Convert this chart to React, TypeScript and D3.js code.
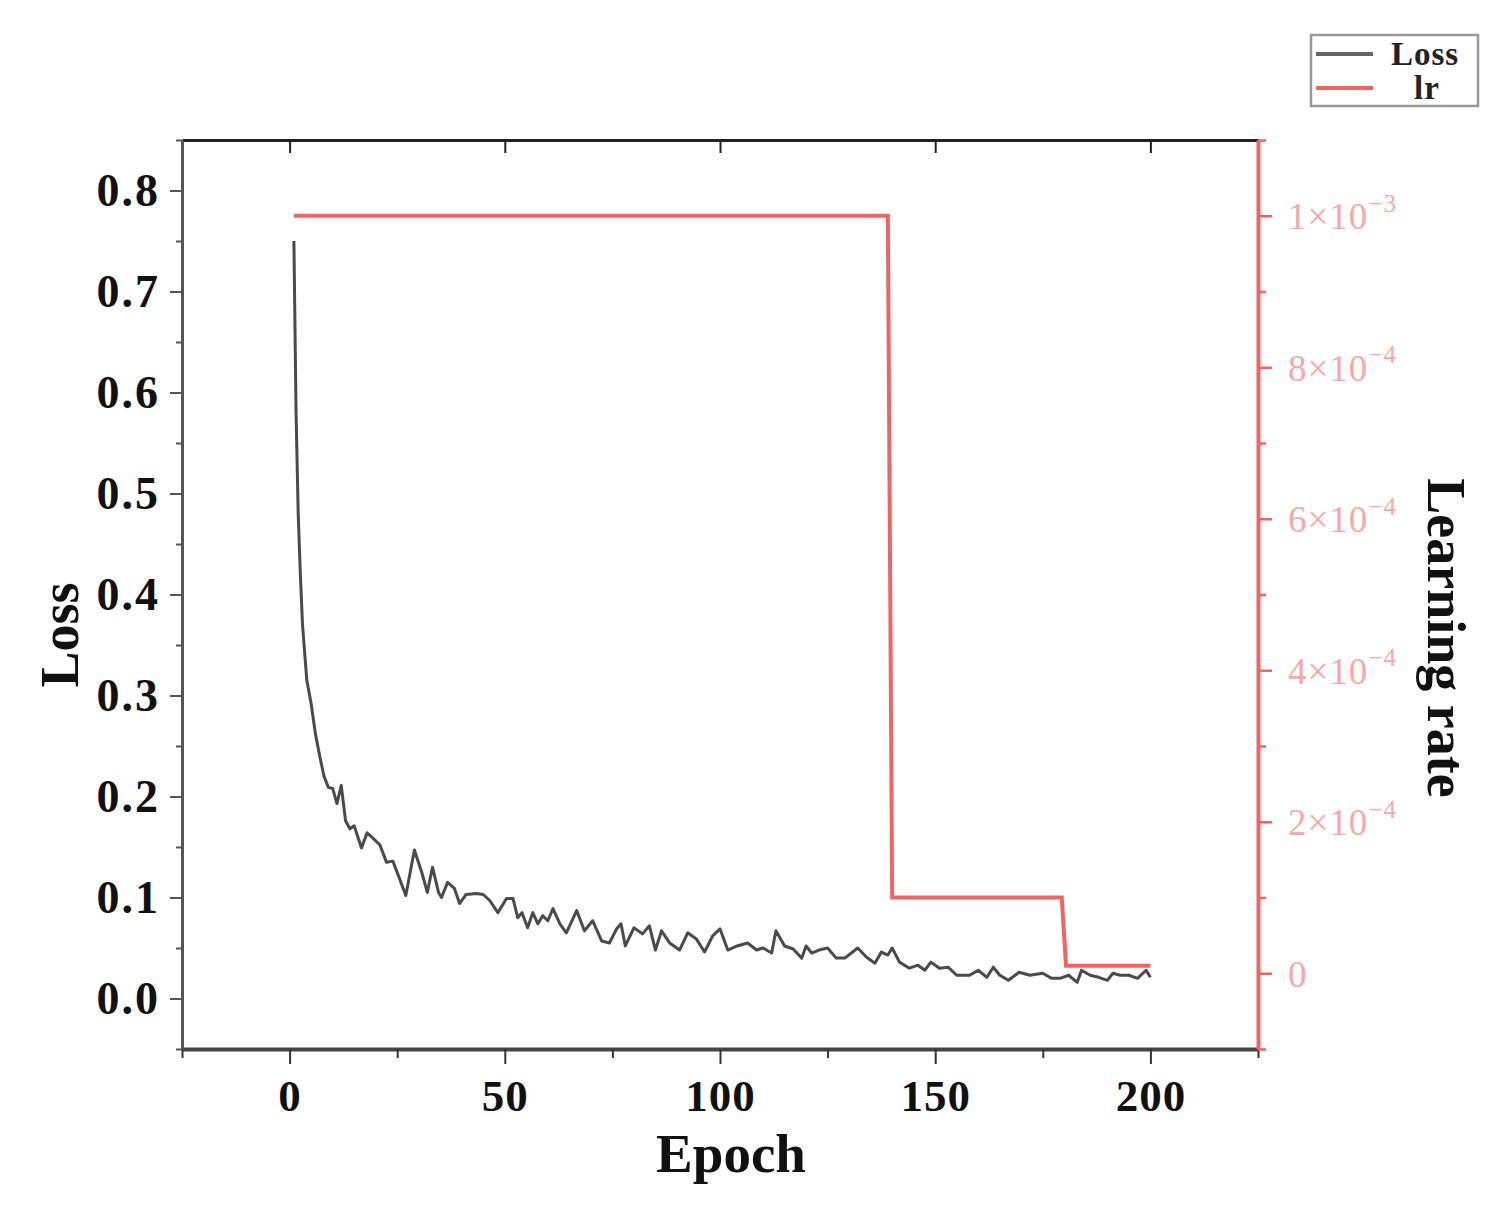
import React, { useRef, useEffect } from 'react'
import * as d3 from 'd3'

// loss, epoch -> value
const lossEpochs = [1, 1.5, 2, 2.5, 3, 4, 5, 6, 7, 8, 9, 10, 11, 12, 13, 14, 15, 16.7, 18, 19.3,
  21, 22.5, 24, 25.6, 27, 29, 30.7, 32, 33.2, 34.6, 35.3, 36.7, 38.3, 39.5, 41, 43.4, 45, 46.5, 48.4, 50.4,
  51.9, 53, 54, 55.3, 56.5, 57.7, 58.8, 60, 61.2, 62.8, 64.3, 66.7, 68.5, 70.4, 72.5, 74.3, 76, 77, 78, 80,
  82, 83.6, 85, 86.4, 88.3, 90.6, 92.5, 94.5, 96.4, 98.3, 100, 101.8, 104, 106.4, 108.5, 110, 112, 113, 115, 117,
  119, 120, 121.3, 123, 125, 127, 129, 132, 134, 136, 137.5, 139, 140, 141.7, 144, 146, 147.6, 149, 151, 153,
  155, 158, 160, 162, 163.5, 165, 167, 169.5, 172, 175, 177, 179, 181, 183, 184, 186, 188, 190, 191.3, 193,
  195, 197, 199, 200]
const lossValues = [0.75, 0.58, 0.48, 0.42, 0.37, 0.315, 0.292, 0.262, 0.24, 0.22, 0.209, 0.208, 0.193, 0.211, 0.176, 0.168, 0.171, 0.149, 0.164, 0.159,
  0.152, 0.135, 0.136, 0.118, 0.102, 0.147, 0.125, 0.105, 0.13, 0.105, 0.1, 0.115, 0.109, 0.094, 0.103, 0.104, 0.103, 0.097, 0.085, 0.099,
  0.099, 0.08, 0.085, 0.07, 0.085, 0.074, 0.082, 0.077, 0.089, 0.074, 0.065, 0.087, 0.067, 0.077, 0.057, 0.055, 0.069, 0.074, 0.052, 0.07,
  0.064, 0.072, 0.048, 0.067, 0.055, 0.048, 0.065, 0.059, 0.046, 0.062, 0.069, 0.048, 0.052, 0.055, 0.048, 0.05, 0.045, 0.067, 0.052, 0.049,
  0.04, 0.052, 0.045, 0.048, 0.05, 0.04, 0.04, 0.05, 0.041, 0.035, 0.046, 0.043, 0.05, 0.036, 0.03, 0.033, 0.028, 0.036, 0.03, 0.031,
  0.023, 0.023, 0.028, 0.021, 0.031, 0.023, 0.018, 0.026, 0.023, 0.025, 0.02, 0.02, 0.023, 0.016, 0.028, 0.023, 0.021, 0.018, 0.025, 0.023,
  0.023, 0.02, 0.028, 0.021]

// learning rate schedule
const lrEpochs = [1, 139, 140, 179.4, 180.4, 200]
const lrValues = [1e-3, 1e-3, 1e-4, 1e-4, 1e-5, 1e-5]

const xTicks = [0, 50, 100, 150, 200]
const lossTicks = [0, 0.1, 0.2, 0.3, 0.4, 0.5, 0.6, 0.7, 0.8]
const lrTicks = [0, 2e-4, 4e-4, 6e-4, 8e-4, 1e-3]
const lrTickMantissa = ['0', '2×10', '4×10', '6×10', '8×10', '1×10']
const lrTickExp = ['', '−4', '−4', '−4', '−4', '−3']

const legendLabels = ['Loss', 'lr']

const FONT = "'Liberation Serif', 'Times New Roman', serif"
const LOSS_COLOR = '#4a4a4a'
const LR_COLOR = '#f26464'

export default function App() {
  const svgRef = useRef<SVGSVGElement>(null)

  useEffect(() => {
    const svg = d3.select(svgRef.current)
    svg.selectAll('*').remove()

    const left = 182, right = 1258, top = 140, bottom = 1049

    const x = d3.scaleLinear().domain([-25, 225]).range([left, right])
    const yLoss = d3.scaleLinear().domain([-0.05, 0.85]).range([bottom, top])
    const yLr = d3.scaleLinear().domain([-1e-4, 1.1e-3]).range([bottom, top])

    const xMinor = d3.range(-25, 226, 25).filter(v => !xTicks.includes(v))
    const lossMinor = d3.range(-0.05, 0.851, 0.05).filter(v => !lossTicks.some(t => Math.abs(t - v) < 1e-6))
    const lrMinor = d3.range(-1e-4, 1.1001e-3, 1e-4).filter(v => !lrTicks.some(t => Math.abs(t - v) < 1e-9))

    // bottom axis
    const gx = svg.append('g').attr('transform', `translate(0,${bottom})`)
    gx.call(d3.axisBottom(x).tickValues(xTicks).tickSize(15).tickSizeOuter(0).tickFormat(d3.format('d')))
    gx.append('g').call(d3.axisBottom(x).tickValues(xMinor).tickSize(9).tickFormat(() => ''))
      .select('.domain').remove()
    gx.selectAll('.domain').attr('stroke', '#444').attr('stroke-width', 4)
    gx.selectAll('line').attr('stroke', '#333').attr('stroke-width', 2)
    gx.selectAll('text')
      .attr('font-family', FONT).attr('font-size', 45).attr('font-weight', 'bold')
      .attr('fill', '#111').attr('dy', '0.98em').attr('letter-spacing', 1)

    // top frame
    const gt = svg.append('g').attr('transform', `translate(0,${top})`)
    gt.call(d3.axisTop(x).tickValues(xTicks).tickSize(-13).tickSizeOuter(0).tickFormat(() => ''))
    gt.selectAll('.domain').attr('stroke', '#222').attr('stroke-width', 3)
    gt.selectAll('line').attr('stroke', '#222').attr('stroke-width', 2)

    // left axis
    const gy = svg.append('g').attr('transform', `translate(${left},0)`)
    gy.call(d3.axisLeft(yLoss).tickValues(lossTicks).tickSize(12).tickSizeOuter(0).tickFormat(d3.format('.1f')))
    gy.append('g').call(d3.axisLeft(yLoss).tickValues(lossMinor).tickSize(6).tickFormat(() => ''))
      .select('.domain').remove()
    gy.selectAll('.domain').attr('stroke', '#555').attr('stroke-width', 3)
    gy.selectAll('line').attr('stroke', '#555').attr('stroke-width', 2)
    gy.selectAll('text')
      .attr('font-family', FONT).attr('font-size', 46).attr('font-weight', 'bold')
      .attr('fill', '#111').attr('x', -22).attr('letter-spacing', 2)

    // right axis (learning rate)
    const gr = svg.append('g').attr('transform', `translate(${right},0)`)
    gr.call(d3.axisRight(yLr).tickValues(lrTicks).tickSize(14).tickSizeOuter(0).tickFormat(() => ''))
    gr.append('g').call(d3.axisRight(yLr).tickValues(lrMinor).tickSize(8).tickFormat(() => ''))
      .select('.domain').remove()
    gr.selectAll('.domain').attr('stroke', LR_COLOR).attr('stroke-width', 4)
    gr.selectAll('line').attr('stroke', LR_COLOR).attr('stroke-width', 2.5)

    const lrLabels = svg.append('g')
      .selectAll('text')
      .data(lrTicks)
      .join('text')
      .attr('x', right + 30)
      .attr('y', d => yLr(d))
      .attr('dy', '0.36em')
      .attr('font-family', FONT)
      .attr('font-size', 37)
      .attr('letter-spacing', 1)
      .attr('fill', '#f7a8a8')
    lrLabels.append('tspan').text((d, i) => lrTickMantissa[i])
    lrLabels.append('tspan')
      .attr('font-size', 25)
      .attr('dy', '-0.7em')
      .text((d, i) => lrTickExp[i])

    // learning rate line
    const lrLine = d3.line<number>()
      .x((d, i) => x(lrEpochs[i]))
      .y(d => yLr(d))
    svg.append('path')
      .datum(lrValues)
      .attr('d', lrLine)
      .attr('fill', 'none')
      .attr('stroke', LR_COLOR)
      .attr('stroke-width', 4)

    // loss line
    const lossLine = d3.line<number>()
      .x((d, i) => x(lossEpochs[i]))
      .y(d => yLoss(d))
    svg.append('path')
      .datum(lossValues)
      .attr('d', lossLine)
      .attr('fill', 'none')
      .attr('stroke', LOSS_COLOR)
      .attr('stroke-width', 3)
      .attr('stroke-linejoin', 'round')

    // axis titles
    svg.append('text')
      .attr('transform', `translate(78,635) rotate(-90)`)
      .attr('text-anchor', 'middle')
      .attr('font-family', FONT).attr('font-size', 54).attr('font-weight', 'bold')
      .attr('fill', '#111')
      .text('Loss')
    svg.append('text')
      .attr('x', 731).attr('y', 1172)
      .attr('text-anchor', 'middle')
      .attr('font-family', FONT).attr('font-size', 55).attr('font-weight', 'bold')
      .attr('fill', '#111')
      .text('Epoch')
    svg.append('text')
      .attr('transform', `translate(1428,638) rotate(90)`)
      .attr('text-anchor', 'middle')
      .attr('font-family', FONT).attr('font-size', 54).attr('font-weight', 'bold')
      .attr('fill', '#111')
      .text('Learning rate')

    // legend
    const lg = svg.append('g')
    lg.append('rect')
      .attr('x', 1311).attr('y', 35).attr('width', 167).attr('height', 71)
      .attr('fill', '#fff').attr('stroke', '#999').attr('stroke-width', 2.5)
    const colors = ['#666', LR_COLOR]
    legendLabels.forEach((label, i) => {
      const cy = 54 + i * 34
      lg.append('line')
        .attr('x1', 1316).attr('x2', 1373).attr('y1', cy).attr('y2', cy)
        .attr('stroke', colors[i]).attr('stroke-width', 4)
      lg.append('text')
        .attr('x', i === 0 ? 1425 : 1427).attr('y', cy + 11)
        .attr('text-anchor', 'middle')
        .attr('font-family', FONT).attr('font-size', 33).attr('font-weight', 'bold')
        .attr('letter-spacing', 1)
        .attr('fill', '#222')
        .text(label)
    })
  }, [])

  return (
    <svg ref={svgRef} width={1503} height={1205}
      style={{ position: 'absolute', left: 0, top: 0, background: '#fff' }} />
  )
}
